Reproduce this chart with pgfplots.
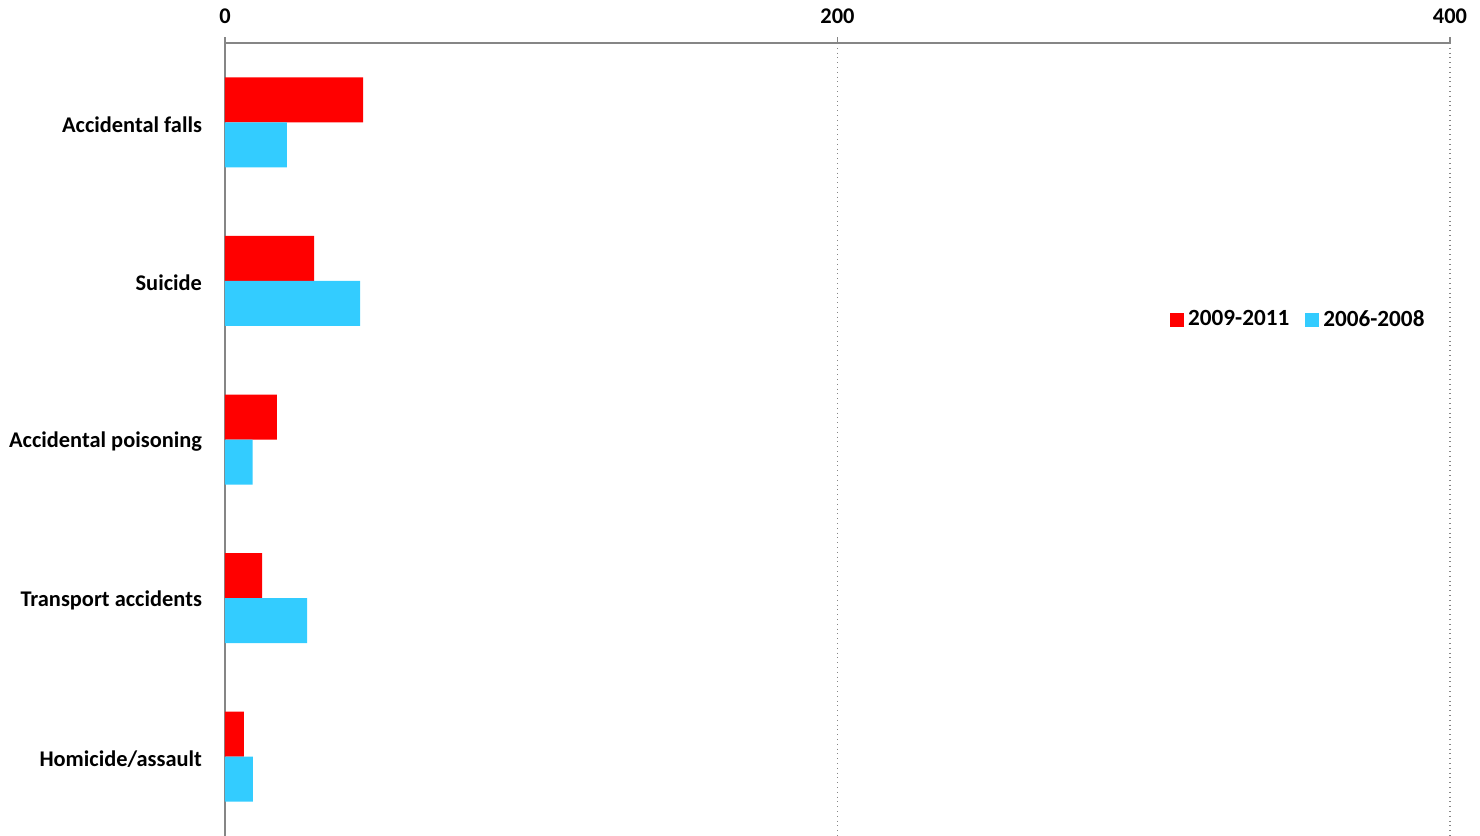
\documentclass[border=0pt]{standalone}
\usepackage{fontspec}
\setmainfont{Carlito}
\usepackage{pgfplots}
\pgfplotsset{compat=1.18}
\definecolor{cred}{HTML}{FF0000}
\definecolor{cblue}{HTML}{33CCFF}
\definecolor{axgray}{HTML}{868686}
\begin{document}
\begin{tikzpicture}
\begin{axis}[
  scale only axis,
  width=612.5pt, height=396.5pt,
  xbar=0pt, bar width=22.5pt,
  xmin=0, xmax=400,
  ymin=-0.5, ymax=4.5,
  y dir=reverse,
  axis x line*=top,
  axis y line*=left,
  axis line style={axgray, line width=0.9pt},
  xtick={0,200,400},
  xticklabel pos=upper,
  tick align=outside,
  major tick length=3pt,
  x tick style={axgray, line width=0.9pt},
  ytick={0,1,2,3,4},
  yticklabels={Accidental falls,Suicide,Accidental poisoning,Transport accidents,Homicide/assault},
  y tick style={draw=none},
  xmajorgrids,
  grid style={axgray, dotted, line width=0.6pt},
  ticklabel style={font=\fontsize{11.2}{13}\selectfont\bfseries},
  /pgf/number format/assume math mode=true,
  xticklabel style={yshift=3pt},
  yticklabel style={xshift=-5pt, yshift=-1pt},
  legend style={draw=none, fill=none, at={(0.877,0.651)}, anchor=center,
    legend columns=2, font=\fontsize{11.6}{13}\selectfont\bfseries,
    /tikz/every even column/.append style={column sep=6pt}},
  legend image code/.code={\fill[#1] (0pt,-3.5pt) rectangle (7pt,3.5pt);},
]
\addplot[draw=none, fill=cred, bar shift=11.25pt] coordinates {(45.1,0) (29.1,1) (16.9,2) (12.1,3) (6.2,4)};
\addplot[draw=none, fill=cblue, bar shift=-11.25pt] coordinates {(20.2,0) (44.1,1) (9.0,2) (26.8,3) (9.1,4)};
\legend{2009-2011,2006-2008}
\end{axis}
\pgfresetboundingbox
\path[use as bounding box] (-112.5pt,0pt) rectangle (627.5pt,418pt);
\end{tikzpicture}
\end{document}
